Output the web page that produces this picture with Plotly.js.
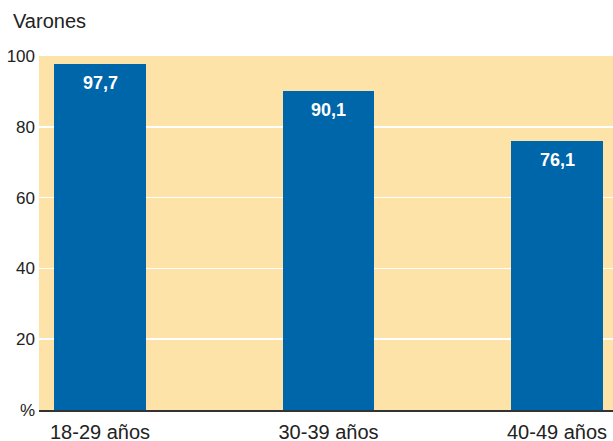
<!DOCTYPE html>
<html>
<head>
<meta charset="utf-8">
<script src="https://cdn.plot.ly/plotly-3.0.1.min.js"></script>
<style>html,body{margin:0;padding:0;background:#fff;}#chart{width:613px;height:441px;}</style>
</head>
<body>
<div id="chart"></div>
<script>
const categories = ["18-29 años", "30-39 años", "40-49 años"];
const values = [97.7, 90.1, 76.1];
const yTickVals = [0, 20, 40, 60, 80, 100];
const yTickText = ["%", "20", "40", "60", "80", "100"];
const chartTitle = "Varones";

const trace = {
  type: "bar",
  x: categories,
  y: values,
  width: 0.40,
  marker: {color: "#0066AA"},
  hoverinfo: "none"
};

const labelAnnotations = categories.map((c, i) => ({
  x: c, y: values[i], xref: "x", yref: "y",
  text: values[i].toFixed(1).replace(".", ","),
  showarrow: false, xanchor: "center", yanchor: "top", yshift: -7,
  font: {family: "Liberation Sans, Arial, sans-serif", size: 18, color: "#ffffff", weight: "bold"}
}));

const layout = {
  width: 613, height: 441,
  margin: {l: 39, r: 0, t: 56, b: 31},
  paper_bgcolor: "#ffffff",
  plot_bgcolor: "#FDE3A7",
  showlegend: false,
  bargap: 0,
  annotations: [{
    text: chartTitle, xref: "paper", yref: "paper",
    x: -0.048, y: 1, xanchor: "left", yanchor: "bottom", yshift: 22,
    showarrow: false,
    font: {family: "Liberation Sans, Arial, sans-serif", size: 20, color: "#222"}
  }].concat(labelAnnotations),
  xaxis: {
    type: "category",
    range: [-0.267, 2.245],
    showgrid: false,
    showline: true, linecolor: "#333", linewidth: 1.5,
    ticks: "", ticklabelstandoff: 3,
    tickfont: {family: "Liberation Sans, Arial, sans-serif", size: 20, color: "#222"},
    fixedrange: true
  },
  yaxis: {
    range: [0, 100],
    tickvals: yTickVals, ticktext: yTickText,
    showgrid: true, gridcolor: "#ffffff", gridwidth: 1.5,
    zeroline: false, showline: false,
    ticks: "", ticklabelstandoff: 3,
    tickfont: {family: "Liberation Sans Narrow, Arial Narrow, sans-serif", size: 17, color: "#222"},
    fixedrange: true
  }
};

Plotly.newPlot("chart", [trace], layout, {displayModeBar: false, staticPlot: true});
</script>
</body>
</html>
